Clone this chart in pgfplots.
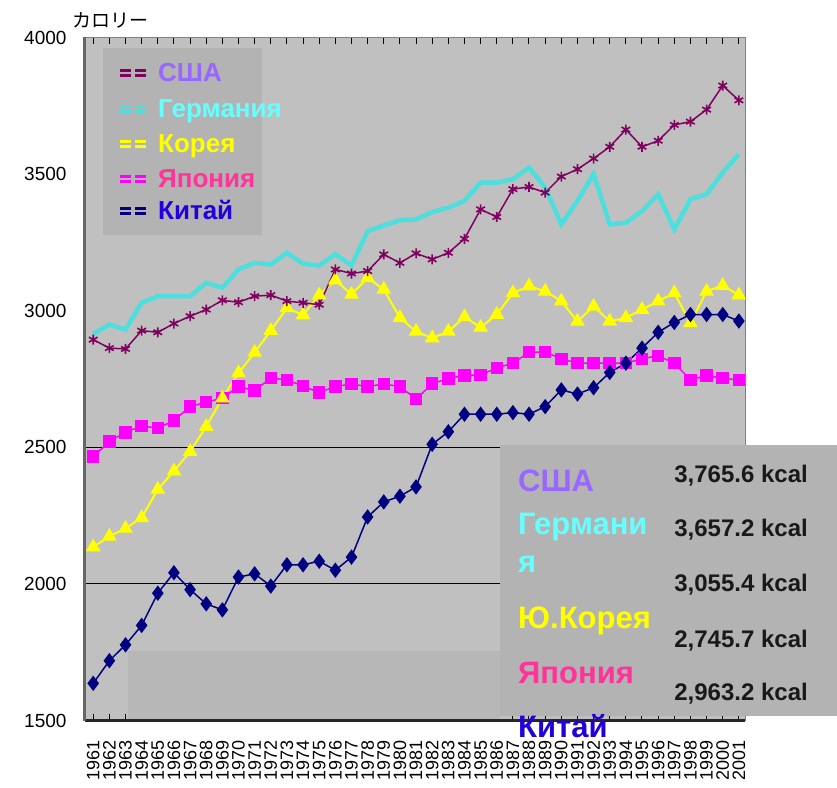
\documentclass[border=0pt]{standalone}
\usepackage{pgfplots}
\usepackage{pgfplotstable}
\pgfplotsset{compat=1.18}
\usepackage{fontspec}
\setmainfont{Liberation Sans}
\newfontfamily\cjk{Noto Sans CJK JP}
\definecolor{bgc}{HTML}{C0C0C0}
\definecolor{boxc}{HTML}{B3B3B3}
\definecolor{lowc}{HTML}{B7B7B7}
\definecolor{usal}{HTML}{800060}
\definecolor{gerl}{HTML}{4DDEDE}
\definecolor{korl}{HTML}{FFFF00}
\definecolor{jpnl}{HTML}{FF00FF}
\definecolor{chnl}{HTML}{000080}
\definecolor{usat}{HTML}{9966FF}
\definecolor{gert}{HTML}{66FFFF}
\definecolor{kort}{HTML}{FFFF00}
\definecolor{jpnt}{HTML}{FF3399}
\definecolor{chnt}{HTML}{2200DD}
\pgfplotsset{set layers}
\pgfplotstableread{
year usa ger kor jpn chn
1961 2894 2915 2135 2466 1636
1962 2863 2949 2174 2521 1719
1963 2860 2931 2203 2555 1777
1964 2927 3029 2242 2578 1848
1965 2921 3053 2346 2570 1966
1966 2953 3053 2413 2598 2041
1967 2980 3053 2484 2649 1979
1968 3004 3102 2576 2665 1927
1969 3038 3084 2680 2680 1905
1970 3031 3151 2772 2722 2025
1971 3053 3175 2847 2708 2037
1972 3057 3169 2927 2753 1992
1973 3035 3212 3010 2747 2070
1974 3029 3172 2984 2724 2070
1975 3022 3165 3057 2700 2083
1976 3151 3207 3112 2723 2050
1977 3136 3166 3060 2731 2098
1978 3145 3291 3120 2723 2245
1979 3206 3312 3078 2731 2300
1980 3175 3331 2974 2723 2321
1981 3210 3334 2924 2676 2355
1982 3188 3361 2900 2733 2511
1983 3212 3377 2924 2752 2557
1984 3263 3402 2977 2763 2621
1985 3371 3469 2939 2765 2621
1986 3343 3469 2986 2790 2621
1987 3445 3481 3065 2808 2627
1988 3453 3524 3090 2848 2621
1989 3432 3451 3071 2849 2649
1990 3491 3316 3035 2824 2710
1991 3518 3402 2961 2808 2695
1992 3557 3500 3016 2808 2718
1993 3600 3316 2961 2808 2774
1994 3663 3322 2974 2808 2808
1995 3600 3365 3004 2824 2863
1996 3622 3426 3035 2835 2921
1997 3680 3298 3065 2808 2957
1998 3692 3408 2955 2747 2986
1999 3736 3426 3071 2762 2986
2000 3824 3506 3092 2753 2986
2001 3770 3573 3057 2746 2962
}\datatable
\begin{document}
\begin{tikzpicture}
\begin{axis}[
  name=ax, at={(0pt,0pt)}, anchor=south west,
  scale only axis, width=660pt, height=683pt,
  xmin=1960.49, xmax=2001.38, ymin=1500, ymax=4000,
  axis background/.style={fill=bgc},
  axis line style={draw=gray, line width=1pt},
  ytick={1500,2000,2500,3000,3500,4000},
  yticklabels={1500,2000,2500,3000,3500,4000},
  y tick label style={font=\fontsize{19}{20}\selectfont, xshift=-15pt},
  ytick style={draw=none},
  xtick={1961,...,2001},
  xticklabels={1961,1962,1963,1964,1965,1966,1967,1968,1969,1970,1971,1972,1973,1974,1975,1976,1977,1978,1979,1980,1981,1982,1983,1984,1985,1986,1987,1988,1989,1990,1991,1992,1993,1994,1995,1996,1997,1998,1999,2000,2001},
  x tick label style={rotate=90, anchor=east, font=\fontsize{18}{18}\selectfont, xshift=-16pt},
  xtick style={black, line width=1pt},
  major tick length=7pt,
  extra y ticks={2000,2500},
  extra y tick labels={},
  extra y tick style={grid=major, major grid style={black, line width=1pt}, tick style={draw=none}},
]
\fill[lowc, on layer=axis background] (axis cs:1963.15,1500) rectangle (axis cs:1986.19,1756);
\addplot[gerl, line width=4.5pt, no marks] table[x=year, y=ger] {\datatable};
\addplot[jpnl, line width=1.5pt, mark=square*, mark size=5.5pt, mark options={fill=jpnl, draw=jpnl}] table[x=year, y=jpn] {\datatable};
\addplot[korl, line width=2pt, mark=triangle*, mark size=6.5pt, mark options={fill=korl, draw=korl}] table[x=year, y=kor] {\datatable};
\addplot[usal, line width=1.5pt, mark=asterisk, mark size=5pt, mark options={line width=1.6pt}] table[x=year, y=usa] {\datatable};
\addplot[chnl, line width=1.5pt, mark=diamond*, mark size=6.5pt, mark options={fill=chnl, draw=chnl}] table[x=year, y=chn] {\datatable};
\end{axis}
% axis borders
\draw[line width=3pt, black!85] (0pt,0pt) -- (660pt,0pt);
\draw[line width=3pt, black!60] (0pt,0pt) -- (0pt,683pt);
% y label
\node[anchor=west, inner sep=0pt, font=\cjk\fontsize{19}{20}\selectfont] at (-13pt,700.5pt) {カロリー};
% legend box
\fill[boxc] (18pt,485.5pt) rectangle (177pt,672.5pt);
\foreach \c/\t/\b in {usal/usat/638.5, gerl/gert/602.5, korl/kort/567.5, jpnl/jpnt/532.5, chnl/chnt/500.5}{
  \draw[\c, line width=2.2pt] (35pt,\b pt+6.5pt) -- (46pt,\b pt+6.5pt) (50pt,\b pt+6.5pt) -- (61pt,\b pt+6.5pt);
  \draw[\c, line width=2.2pt] (35pt,\b pt+11.5pt) -- (46pt,\b pt+11.5pt) (50pt,\b pt+11.5pt) -- (61pt,\b pt+11.5pt);
}
\begin{scope}[every node/.style={anchor=base west, inner sep=0pt, font=\fontsize{26}{28}\selectfont\bfseries}]
\node[text=usat] at (73pt,638.5pt) {США};
\node[text=gert] at (73pt,602.5pt) {Германия};
\node[text=kort] at (73pt,567.5pt) {Корея};
\node[text=jpnt] at (73pt,532.5pt) {Япония};
\node[text=chnt] at (73pt,500.5pt) {Китай};
\end{scope}
% overlay box
\fill[boxc] (415pt,4.5pt) rectangle (752pt,275.5pt);
\begin{scope}[every node/.style={anchor=base west, inner sep=0pt, font=\fontsize{31}{33}\selectfont\bfseries}]
\node[text=usat] at (433pt,228.5pt) {США};
\node[text=gert] at (433pt,185.5pt) {Германи};
\node[text=gert] at (433pt,147.5pt) {я};
\node[text=kort] at (433pt,92.5pt) {Ю.Корея};
\node[text=jpnt] at (433pt,37.5pt) {Япония};
\node[text=chnt] at (433pt,-16.5pt) {Китай};
\end{scope}
\begin{scope}[every node/.style={anchor=base east, inner sep=0pt, text=black!90, font=\fontsize{24}{26}\selectfont\bfseries}]
\node at (723pt,237.5pt) {3,765.6 kcal};
\node at (723pt,183.5pt) {3,657.2 kcal};
\node at (723pt,128.5pt) {3,055.4 kcal};
\node at (723pt,73.5pt) {2,745.7 kcal};
\node at (723pt,20.5pt) {2,963.2 kcal};
\end{scope}
\pgfresetboundingbox
\useasboundingbox (-85pt,-66.5pt) rectangle (752pt,720.5pt);
\end{tikzpicture}
\end{document}
